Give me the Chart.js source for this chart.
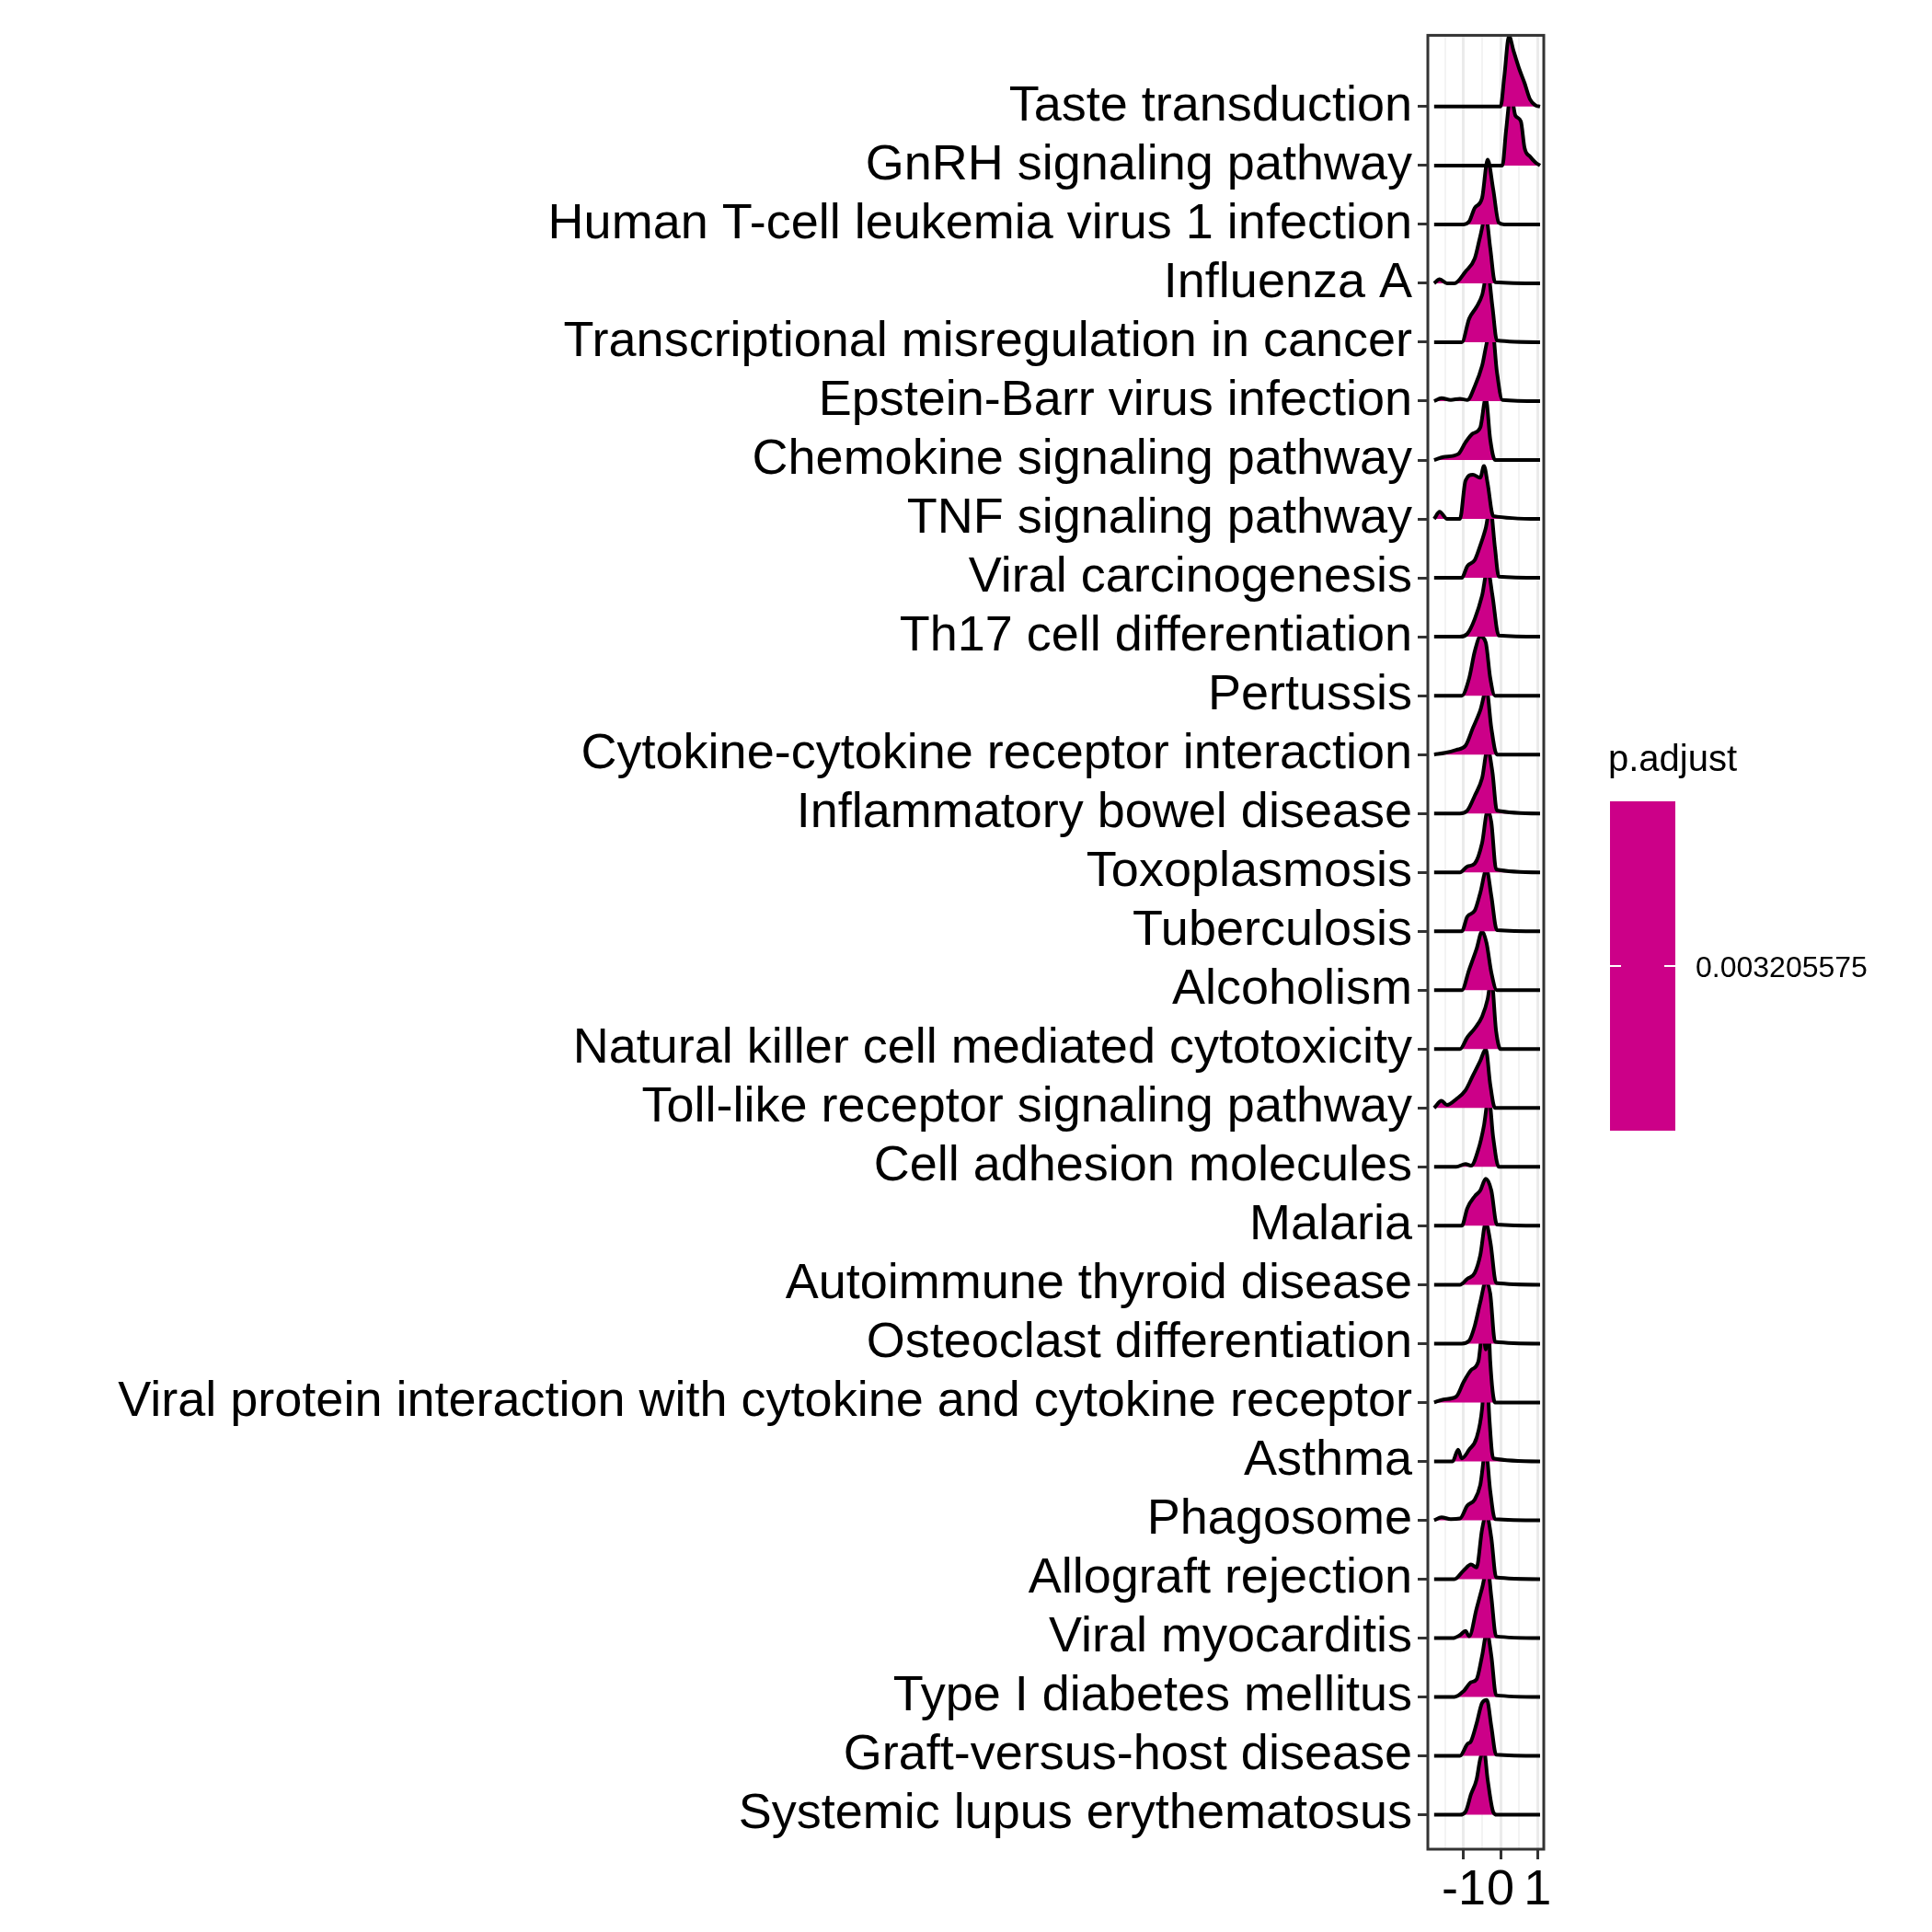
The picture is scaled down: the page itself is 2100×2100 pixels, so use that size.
<!doctype html>
<html lang="en">
<head>
<meta charset="utf-8">
<title>Ridge plot</title>
<style>
  * { margin: 0; padding: 0; }
  body { background: white; }
  .chartBox { width: 2100px; height: 2100px; }
  canvas { display: block; }
</style>
</head>
<body>
<div class="chartBox"><canvas id="myChart" width="2100" height="2100" style="width:2100px;height:2100px"></canvas></div>
<script src="https://cdn.jsdelivr.net/npm/chart.js"></script>
<script>
// pathways, top to bottom
const pathways = [
  'Taste transduction', 'GnRH signaling pathway', 'Human T-cell leukemia virus 1 infection',
  'Influenza A', 'Transcriptional misregulation in cancer', 'Epstein-Barr virus infection',
  'Chemokine signaling pathway', 'TNF signaling pathway', 'Viral carcinogenesis',
  'Th17 cell differentiation', 'Pertussis', 'Cytokine-cytokine receptor interaction',
  'Inflammatory bowel disease', 'Toxoplasmosis', 'Tuberculosis', 'Alcoholism',
  'Natural killer cell mediated cytotoxicity', 'Toll-like receptor signaling pathway',
  'Cell adhesion molecules', 'Malaria', 'Autoimmune thyroid disease',
  'Osteoclast differentiation', 'Viral protein interaction with cytokine and cytokine receptor',
  'Asthma', 'Phagosome', 'Allograft rejection', 'Viral myocarditis',
  'Type I diabetes mellitus', 'Graft-versus-host disease', 'Systemic lupus erythematosus'
]

// density outlines per pathway: [x (log2 fold change), height (row units)]
const ridges = [
  [[-1.8,0],[0,0],[0.1,0.5],[0.23,1.2],[0.35,0.95],[0.5,0.65],[0.65,0.4],[0.8,0.12],[0.95,0.02],[1.07,0]],
  [[-1.8,0],[0.05,0],[0.15,0.6],[0.28,1.22],[0.4,0.85],[0.55,0.75],[0.65,0.3],[0.8,0.15],[0.95,0.05],[1.07,0]],
  [[-1.8,0],[-1.0,0],[-0.85,0.05],[-0.7,0.28],[-0.5,0.45],[-0.35,1.1],[-0.2,0.6],[-0.05,0.03],[0.1,0],[1.07,0]],
  [[-1.8,0],[-1.65,0.07],[-1.45,0],[-1.25,0],[-0.95,0.2],[-0.7,0.42],[-0.55,0.8],[-0.4,1.15],[-0.28,0.6],[-0.15,0.02],[1.07,0]],
  [[-1.8,0],[-1.05,0],[-0.85,0.4],[-0.65,0.6],[-0.5,0.8],[-0.35,1.2],[-0.22,0.6],[-0.1,0.03],[1.07,0]],
  [[-1.8,0],[-1.6,0.05],[-1.35,0.02],[-1.1,0.04],[-0.9,0.02],[-0.7,0.25],[-0.5,0.6],[-0.35,1.05],[-0.22,1.2],[-0.1,0.5],[0.05,0.02],[1.07,0]],
  [[-1.8,0],[-1.55,0.05],[-1.15,0.1],[-0.95,0.3],[-0.75,0.45],[-0.55,0.55],[-0.4,1.05],[-0.28,0.35],[-0.15,0],[1.07,0]],
  [[-1.8,0],[-1.65,0.12],[-1.45,0],[-1.1,0],[-0.95,0.65],[-0.75,0.75],[-0.55,0.7],[-0.45,0.9],[-0.35,0.6],[-0.2,0.05],[1.07,0]],
  [[-1.8,0],[-1.05,0],[-0.9,0.2],[-0.7,0.3],[-0.55,0.55],[-0.4,0.85],[-0.28,1.2],[-0.15,0.5],[-0.05,0.02],[1.07,0]],
  [[-1.8,0],[-1.1,0],[-0.9,0.05],[-0.7,0.3],[-0.5,0.7],[-0.35,1.15],[-0.22,0.7],[-0.05,0.02],[1.07,0]],
  [[-1.8,0],[-1.05,0],[-0.85,0.3],[-0.7,0.75],[-0.55,1.0],[-0.4,0.9],[-0.28,0.3],[-0.15,0],[1.07,0]],
  [[-1.8,0],[-1.5,0.03],[-1.2,0.08],[-0.95,0.15],[-0.75,0.45],[-0.55,0.75],[-0.38,1.1],[-0.25,0.45],[-0.1,0],[1.07,0]],
  [[-1.8,0],[-1.1,0],[-0.9,0.05],[-0.7,0.3],[-0.5,0.6],[-0.35,1.1],[-0.22,0.7],[-0.1,0.05],[1.07,0]],
  [[-1.8,0],[-1.1,0],[-0.9,0.1],[-0.7,0.15],[-0.5,0.5],[-0.35,1.05],[-0.25,0.85],[-0.12,0.05],[1.07,0]],
  [[-1.8,0],[-1.05,0],[-0.9,0.25],[-0.7,0.35],[-0.55,0.65],[-0.38,1.05],[-0.25,0.6],[-0.1,0.02],[1.07,0]],
  [[-1.8,0],[-1.05,0],[-0.85,0.35],[-0.65,0.7],[-0.5,1.0],[-0.38,0.8],[-0.25,0.3],[-0.1,0],[1.07,0]],
  [[-1.8,0],[-1.1,0],[-0.9,0.2],[-0.7,0.35],[-0.5,0.55],[-0.35,0.85],[-0.25,1.2],[-0.12,0.3],[0,0],[1.07,0]],
  [[-1.8,0],[-1.6,0.12],[-1.45,0.05],[-1.2,0.15],[-0.95,0.3],[-0.75,0.55],[-0.55,0.8],[-0.4,1.0],[-0.28,0.4],[-0.15,0],[1.07,0]],
  [[-1.8,0],[-1.2,0],[-0.95,0.05],[-0.8,0.02],[-0.6,0.3],[-0.45,0.7],[-0.32,1.2],[-0.2,0.5],[-0.05,0],[1.07,0]],
  [[-1.8,0],[-1.05,0],[-0.9,0.3],[-0.7,0.5],[-0.55,0.6],[-0.4,0.8],[-0.25,0.6],[-0.1,0.02],[1.07,0]],
  [[-1.8,0],[-1.1,0],[-0.9,0.1],[-0.7,0.2],[-0.55,0.5],[-0.4,1.05],[-0.27,0.7],[-0.12,0.03],[1.07,0]],
  [[-1.8,0],[-1.05,0],[-0.85,0.05],[-0.7,0.3],[-0.55,0.7],[-0.4,1.05],[-0.28,0.85],[-0.15,0.03],[1.07,0]],
  [[-1.8,0],[-1.55,0.05],[-1.2,0.1],[-1.0,0.35],[-0.8,0.55],[-0.6,0.7],[-0.48,1.25],[-0.4,0.9],[-0.35,1.7],[-0.28,0.7],[-0.15,0],[1.07,0]],
  [[-1.8,0],[-1.3,0],[-1.15,0.2],[-1.05,0.05],[-0.85,0.2],[-0.65,0.4],[-0.5,0.9],[-0.4,1.8],[-0.3,0.7],[-0.2,0.05],[1.07,0]],
  [[-1.8,0],[-1.6,0.05],[-1.35,0.02],[-1.1,0.03],[-0.9,0.25],[-0.7,0.35],[-0.55,0.6],[-0.4,1.2],[-0.28,0.5],[-0.15,0.02],[1.07,0]],
  [[-1.8,0],[-1.25,0],[-1.0,0.15],[-0.8,0.25],[-0.65,0.2],[-0.5,0.85],[-0.38,1.1],[-0.25,0.7],[-0.12,0.03],[1.07,0]],
  [[-1.8,0],[-1.3,0],[-1.1,0.05],[-0.95,0.12],[-0.85,0.03],[-0.65,0.5],[-0.5,0.85],[-0.35,1.2],[-0.25,0.7],[-0.12,0.03],[1.07,0]],
  [[-1.8,0],[-1.25,0],[-1.0,0.1],[-0.8,0.25],[-0.65,0.3],[-0.5,0.7],[-0.37,1.1],[-0.25,0.7],[-0.12,0.03],[1.07,0]],
  [[-1.8,0],[-1.1,0],[-0.9,0.2],[-0.8,0.25],[-0.65,0.55],[-0.5,0.9],[-0.37,0.95],[-0.25,0.5],[-0.12,0.02],[1.07,0]],
  [[-1.8,0],[-1.1,0],[-0.95,0.05],[-0.8,0.35],[-0.65,0.6],[-0.55,0.95],[-0.45,1.1],[-0.35,0.6],[-0.2,0.05],[-0.1,0],[1.07,0]]
]

const xTicks = [-1.5, -1, -0.5, 0, 0.5, 1]
const padjLabel = '0.003205575'
const fillColor = '#CC0088'
const n = pathways.length

const datasets = pathways.map((name, i) => {
  const base = n - i
  return {
    label: name,
    data: ridges[i].map(p => ({ x: p[0], y: base + p[1] })),
    fill: { value: base },
    backgroundColor: fillColor,
    borderColor: 'black',
    borderWidth: 4,
    pointRadius: 0,
    cubicInterpolationMode: 'monotone'
  }
})

const frame = {
  id: 'frame',
  afterDraw(chart) {
    const { ctx, chartArea: { left, right, top, bottom } } = chart
    ctx.save()
    ctx.strokeStyle = '#333333'
    ctx.lineWidth = 3
    ctx.strokeRect(left, top, right - left, bottom - top)
    // colour bar legend
    ctx.fillStyle = 'black'
    ctx.font = '40px "Liberation Sans"'
    ctx.textBaseline = 'alphabetic'
    ctx.fillText('p.adjust', 1748, 838)
    ctx.fillStyle = fillColor
    ctx.fillRect(1750, 871, 71, 358)
    ctx.strokeStyle = 'white'
    ctx.lineWidth = 2
    ctx.beginPath()
    ctx.moveTo(1750, 1050); ctx.lineTo(1762, 1050)
    ctx.moveTo(1809, 1050); ctx.lineTo(1821, 1050)
    ctx.stroke()
    ctx.fillStyle = 'black'
    ctx.font = '32px "Liberation Sans"'
    ctx.textBaseline = 'middle'
    ctx.fillText(padjLabel, 1843, 1053)
    ctx.restore()
  }
}

new Chart(document.getElementById('myChart'), {
  type: 'line',
  data: { datasets },
  options: {
    responsive: false,
    animation: false,
    maintainAspectRatio: false,
    devicePixelRatio: 1,
    layout: { padding: { top: 23, right: 422, left: 0, bottom: 0 } },
    plugins: { legend: { display: false }, tooltip: { enabled: false } },
    scales: {
      x: {
        type: 'linear',
        min: -1.97,
        max: 1.17,
        afterBuildTicks: s => { s.ticks = xTicks.map(v => ({ value: v })) },
        afterFit: s => { s.height = 90 },
        border: { display: false },
        grid: {
          color: c => Number.isInteger(c.tick.value) ? '#EBEBEB' : '#F3F3F3',
          lineWidth: c => Number.isInteger(c.tick.value) ? 3 : 2,
          tickColor: c => Number.isInteger(c.tick.value) ? '#333333' : 'rgba(0,0,0,0)',
          tickLength: 11,
          tickWidth: 3
        },
        ticks: {
          autoSkip: false,
          maxRotation: 0,
          padding: 2,
          color: 'black',
          font: { family: 'Liberation Sans', size: 54 },
          callback: v => Number.isInteger(v) ? String(v) : ''
        }
      },
      y: {
        type: 'linear',
        min: 0.416,
        max: 31.21,
        afterBuildTicks: s => { s.ticks = pathways.map((p, i) => ({ value: n - i })) },
        afterFit: s => { s.width = 1552 },
        border: { display: false },
        grid: {
          drawOnChartArea: false,
          tickColor: '#333333',
          tickLength: 11,
          tickWidth: 3
        },
        ticks: {
          autoSkip: false,
          padding: 6,
          color: 'black',
          font: { family: 'Liberation Sans', size: 54 },
          callback: v => pathways[n - v]
        }
      }
    }
  },
  plugins: [frame]
})
</script>
</body>
</html>
